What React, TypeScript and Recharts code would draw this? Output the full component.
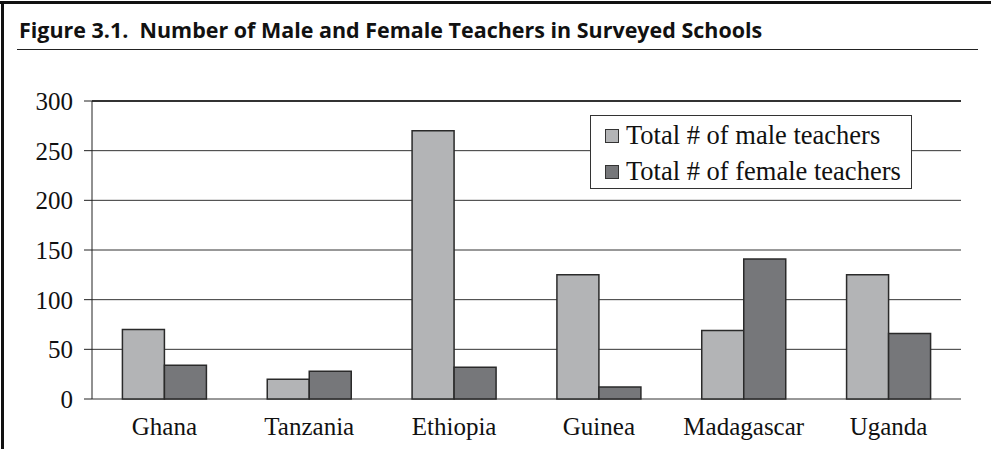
import { BarChart, Bar, XAxis, YAxis, CartesianGrid, Legend, ReferenceLine } from 'recharts';

const countries = ['Ghana', 'Tanzania', 'Ethiopia', 'Guinea', 'Madagascar', 'Uganda'];
const maleTeachers = [70, 20, 270, 125, 69, 125];
const femaleTeachers = [34, 28, 32, 12, 141, 66];
const yTicks = [0, 50, 100, 150, 200, 250, 300];
const boundaryTicks = [0, 1, 2, 3, 4, 5, 6];
const seriesOrder = ['male', 'female'];

const data = countries.map((c, i) => ({
  country: c,
  male: maleTeachers[i],
  female: femaleTeachers[i],
}));

const serif = "'Liberation Serif', 'Times New Roman', serif";
const tickStyle = { fill: '#111', fontSize: 25, fontFamily: serif };

// legend box drawn from payload, kept in series order
function LegendBox({ payload }: any) {
  const items = [...(payload || [])].sort(
    (a: any, b: any) => seriesOrder.indexOf(a.dataKey) - seriesOrder.indexOf(b.dataKey)
  );
  return (
    <div
      style={{
        border: '1px solid #333',
        background: '#fff',
        width: 322,
        height: 74,
        boxSizing: 'border-box',
        fontFamily: serif,
        fontSize: 26.5,
        color: '#111',
        paddingTop: 1,
      }}
    >
      {items.map((p: any) => (
        <div key={p.value} style={{ display: 'flex', alignItems: 'center', height: 36, paddingLeft: 14 }}>
          <span
            style={{
              display: 'inline-block',
              width: 12,
              height: 12,
              background: p.color,
              border: '1px solid #333',
              marginRight: 7,
              marginTop: 2,
            }}
          />
          <span>{p.value}</span>
        </div>
      ))}
    </div>
  );
}

export default function App() {
  return (
    <div style={{ position: 'absolute', left: 0, top: 0, width: 991, height: 449, background: '#fff', overflow: 'hidden' }}>
      {/* frame */}
      <div style={{ position: 'absolute', left: 0, top: 1, width: 991, height: 3, background: '#111' }} />
      <div style={{ position: 'absolute', left: 1, top: 1, width: 3, height: 448, background: '#111' }} />
      <div
        style={{
          position: 'absolute',
          left: 19,
          top: 14,
          fontFamily: "'Open Sans', sans-serif",
          fontWeight: 700,
          fontSize: 22,
          color: '#111',
          whiteSpace: 'pre',
          transform: 'scaleX(0.976)',
          transformOrigin: 'left top',
        }}
      >
        {'Figure 3.1.  Number of Male and Female Teachers in Surveyed Schools'}
      </div>
      <div style={{ position: 'absolute', left: 17, top: 49, width: 961, height: 1, background: '#222' }} />

      <div style={{ position: 'absolute', left: 0, top: 0 }}>
        <BarChart
          width={991}
          height={449}
          data={data}
          margin={{ top: 101, right: 30, left: 32, bottom: 0 }}
          barCategoryGap="21%"
          barGap={0}
        >
          <CartesianGrid vertical={false} stroke="#333" strokeWidth={1} />
          <XAxis
            xAxisId="n"
            type="number"
            domain={[0, 6]}
            ticks={boundaryTicks}
            tick={false}
            tickSize={7}
            height={0}
            axisLine={{ stroke: '#222' }}
            tickLine={{ stroke: '#222' }}
          />
          <XAxis
            dataKey="country"
            axisLine={false}
            tickLine={false}
            tickSize={0}
            tickMargin={18}
            height={50}
            tick={tickStyle}
            interval={0}
          />
          <YAxis
            domain={[0, 300]}
            ticks={yTicks}
            width={60}
            tickSize={8}
            tickMargin={11}
            tick={tickStyle}
            axisLine={{ stroke: '#222' }}
            tickLine={{ stroke: '#222' }}
          />
          <YAxis yAxisId="r" orientation="right" width={0} tick={false} tickLine={false} axisLine={{ stroke: '#222' }} />
          <ReferenceLine y={300} stroke="#111" strokeWidth={1.5} />
          <Legend
            content={<LegendBox />}
            wrapperStyle={{ position: 'absolute', left: 590, top: 115, width: 'auto', height: 0, overflow: 'visible' }}
          />
          <Bar dataKey="male" name="Total # of male teachers" fill="#b3b4b6" stroke="#2a2a2a" strokeWidth={1.5} isAnimationActive={false} />
          <Bar dataKey="female" name="Total # of female teachers" fill="#76777a" stroke="#2a2a2a" strokeWidth={1.5} isAnimationActive={false} />
        </BarChart>
      </div>
    </div>
  );
}
